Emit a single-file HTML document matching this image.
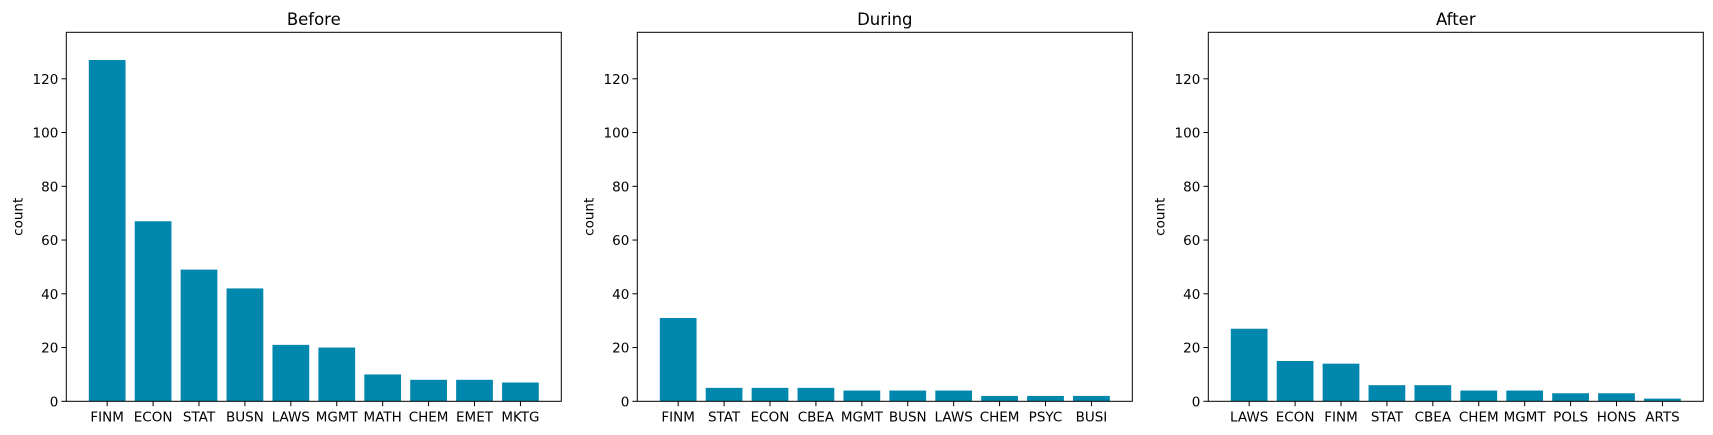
<!DOCTYPE html>
<html><head><meta charset="utf-8"><style>
html,body{margin:0;padding:0;background:#fff;}
svg{display:block;font-family:"DejaVu Sans","Liberation Sans",sans-serif;}
</style></head><body>
<svg id="chart" width="1713" height="435" viewBox="0 0 1713 435" xmlns="http://www.w3.org/2000/svg"></svg>
<script>
const titles = ["Before", "During", "After"];
const catsBefore = ["FINM","ECON","STAT","BUSN","LAWS","MGMT","MATH","CHEM","EMET","MKTG"];
const valsBefore = [127,67,49,42,21,20,10,8,8,7];
const catsDuring = ["FINM","STAT","ECON","CBEA","MGMT","BUSN","LAWS","CHEM","PSYC","BUSI"];
const valsDuring = [31,5,5,5,4,4,4,2,2,2];
const catsAfter = ["LAWS","ECON","FINM","STAT","CBEA","CHEM","MGMT","POLS","HONS","ARTS"];
const valsAfter = [27,15,14,6,6,4,4,3,3,1];
const yTicks = [0,20,40,60,80,100,120];
const yMax = 137.3;

{
const NS = "http://www.w3.org/2000/svg";
const svgEl = document.getElementById("chart");
function mk(tag, attrs, parent){
  const e = document.createElementNS(NS, tag);
  for (const k in attrs) e.setAttribute(k, attrs[k]);
  (parent||svgEl).appendChild(e);
  return e;
}
const panels = [[catsBefore,valsBefore],[catsDuring,valsDuring],[catsAfter,valsAfter]];
const plotTop = 32.3, plotBottom = 401.3, plotW = 495;
panels.forEach((p, i) => {
  const cats = p[0], vals = p[1];
  const left = 66.3 + i*571;
  const n = cats.length;
  const xmin = -0.4 - 0.05*(n-0.2), xmax = n-1+0.4 + 0.05*(n-0.2);
  const xs = v => left + (v - xmin)/(xmax - xmin)*plotW;
  const ys = v => plotBottom - v/yMax*(plotBottom-plotTop);
  const g = mk("g", {});
  
  
  vals.forEach((v, j) => {
    const r = mk("rect", {x: xs(j-0.4), y: ys(v), width: xs(j+0.4)-xs(j-0.4), height: plotBottom - ys(v), fill: "#0087AE"}, g);
    
    
    const t = mk("line", {x1: xs(j), x2: xs(j), y1: plotBottom, y2: plotBottom+4.9, stroke: "#000", "stroke-width": 1}, g);
    
    
    const lb = mk("text", {x: xs(j), y: plotBottom+20, "text-anchor": "middle", "font-size": "13.5px", fill: "#000"}, g);
    lb.textContent = cats[j];
    
    
  });
  yTicks.forEach(v => {
    const t = mk("line", {x1: left-4.9, x2: left, y1: ys(v), y2: ys(v), stroke: "#000", "stroke-width": 1}, g);
    
    
    const lb = mk("text", {x: left-8, y: ys(v)+5, "text-anchor": "end", "font-size": "13.5px", fill: "#000"}, g);
    lb.textContent = v;
    
    
  });
  const fr = mk("rect", {x: left, y: plotTop, width: plotW, height: plotBottom-plotTop, fill: "none", stroke: "#000", "stroke-width": 1}, g);
  
  
  const ti = mk("text", {x: left+plotW/2, y: 25, "text-anchor": "middle", "font-size": "16.5px", fill: "#000"}, g);
  ti.textContent = titles[i];
  
  
  const yl = mk("text", {x: 0, y: 0, "text-anchor": "middle", "font-size": "13.5px", fill: "#000", transform: "translate(" + (left-44) + "," + ((plotTop+plotBottom)/2) + ") rotate(-90)"}, g);
  yl.textContent = "count";
  
  
});
}
</script>
</body></html>
